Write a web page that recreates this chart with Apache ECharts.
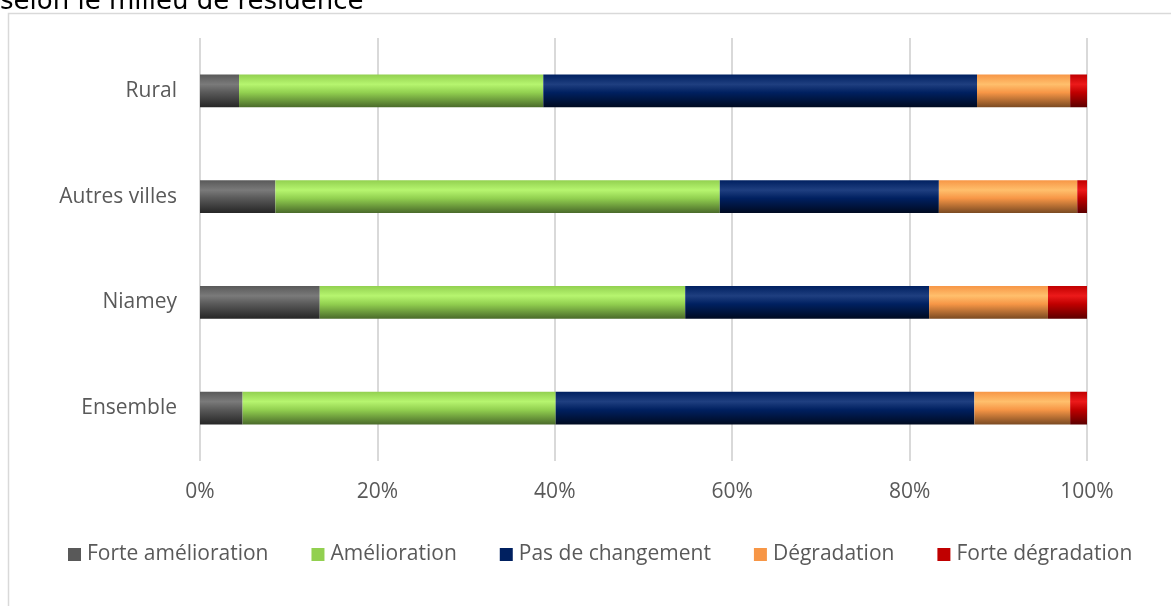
<!DOCTYPE html>
<html>
<head>
<meta charset="utf-8">
<script src="https://cdn.jsdelivr.net/npm/echarts@6/dist/echarts.min.js"></script>
<style>
  html, body { margin: 0; padding: 0; background: #ffffff; }
  #chart { width: 1171px; height: 606px; }
</style>
</head>
<body>
<div id="chart"></div>
<script>
// Milieu de résidence (bottom to top on the axis)
const categories = ['Ensemble', 'Niamey', 'Autres villes', 'Rural'];

// Share of households (%) by perceived change
const forteAmelioration = [4.8, 13.5, 8.5, 4.4];
const amelioration      = [35.3, 41.2, 50.1, 34.3];
const pasDeChangement   = [47.2, 27.5, 24.7, 48.9];
const degradation       = [10.8, 13.4, 15.6, 10.5];
const forteDegradation  = [1.9, 4.4, 1.1, 1.9];

const xTicks = ['0%', '20%', '40%', '60%', '80%', '100%'];

const seriesNames = ['Forte amélioration', 'Amélioration', 'Pas de changement', 'Dégradation', 'Forte dégradation'];
const seriesData = [forteAmelioration, amelioration, pasDeChangement, degradation, forteDegradation];

// base, highlight, shadow tones for the glossy bar fill
const palette = [
  { base: '#595959', hi: '#7a7a7a', lo: '#262626' },
  { base: '#92d050', hi: '#b6f56f', lo: '#4a6a2a' },
  { base: '#002060', hi: '#1f3f80', lo: '#000a20' },
  { base: '#f79646', hi: '#ffbf6c', lo: '#7a4a22' },
  { base: '#c00000', hi: '#ec1a1a', lo: '#5c0000' }
];

function glossy(c) {
  return new echarts.graphic.LinearGradient(0, 0, 0, 1, [
    { offset: 0, color: c.base },
    { offset: 0.3, color: c.hi },
    { offset: 0.55, color: c.base },
    { offset: 1, color: c.lo }
  ]);
}

const chart = echarts.init(document.getElementById('chart'), null, { renderer: 'canvas' });

const font = '"Open Sans", "Noto Sans", sans-serif';
const fontSize = 21;

chart.setOption({
  animation: false,
  backgroundColor: '#ffffff',
  color: palette.map(p => p.base),
  graphic: [
    {
      type: 'rect',
      shape: { x: 8.5, y: 13.5, width: 1200, height: 700 },
      style: { fill: 'none', stroke: '#d9d9d9', lineWidth: 1.5 },
      z: -1
    },
    {
      type: 'text',
      left: 0,
      top: -11,
      style: {
        text: 'selon le milieu de résidence',
        font: '26px "DejaVu Sans", sans-serif',
        fill: '#000000'
      }
    }
  ],
  legend: {
    bottom: 36,
    left: 63,
    itemWidth: 13,
    itemHeight: 13,
    itemGap: 43,
    icon: 'rect',
    textStyle: { fontFamily: font, fontSize: fontSize, color: '#595959', padding: [0, 0, 0, 1] },
    data: seriesNames.map((n, i) => ({ name: n, itemStyle: { color: palette[i].base } }))
  },
  grid: { left: 200, right: 84, top: 38, bottom: 145, containLabel: false },
  xAxis: {
    type: 'value',
    min: 0,
    max: 100,
    interval: 20,
    axisLine: { show: false },
    axisTick: { show: false },
    splitLine: { lineStyle: { color: '#d9d9d9', width: 2 } },
    axisLabel: {
      margin: 21,
      fontFamily: font,
      fontSize: fontSize,
      color: '#595959',
      formatter: (v) => xTicks[Math.round(v / 20)]
    }
  },
  yAxis: {
    type: 'category',
    data: categories,
    axisLine: { show: false },
    axisTick: { show: false },
    axisLabel: { margin: 23, fontFamily: font, fontSize: fontSize, color: '#595959' }
  },
  series: seriesNames.map((name, i) => ({
    name: name,
    type: 'bar',
    stack: 'total',
    barCategoryGap: '69%',
    data: seriesData[i],
    itemStyle: { color: glossy(palette[i]) }
  }))
});
</script>
</body>
</html>
